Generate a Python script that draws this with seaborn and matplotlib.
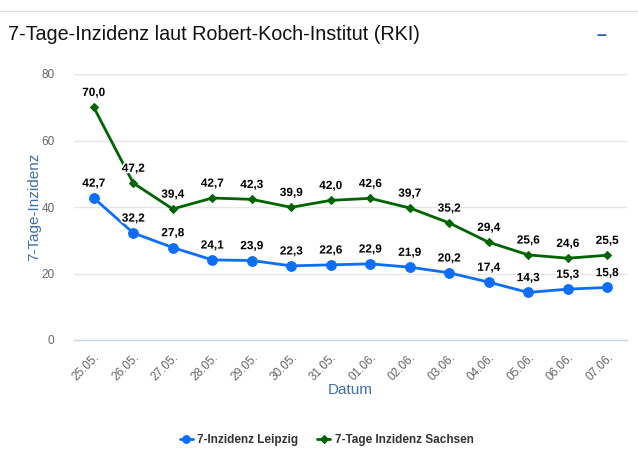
import matplotlib
matplotlib.use("Agg")
import matplotlib.pyplot as plt
import matplotlib.patheffects as pe
import seaborn as sns
import pandas as pd

# data
dates = ["25.05.", "26.05.", "27.05.", "28.05.", "29.05.", "30.05.", "31.05.",
         "01.06.", "02.06.", "03.06.", "04.06.", "05.06.", "06.06.", "07.06."]
leipzig = [42.7, 32.2, 27.8, 24.1, 23.9, 22.3, 22.6, 22.9, 21.9, 20.2, 17.4, 14.3, 15.3, 15.8]
sachsen = [70.0, 47.2, 39.4, 42.7, 42.3, 39.9, 42.0, 42.6, 39.7, 35.2, 29.4, 25.6, 24.6, 25.5]
y_ticks = [0, 20, 40, 60, 80]

df = pd.DataFrame({"pos": range(len(dates)), "datum": dates,
                   "leipzig": leipzig, "sachsen": sachsen})

sns.set_style("white")
plt.rcParams["font.family"] = ["Liberation Sans", "DejaVu Sans"]

fig = plt.figure(figsize=(6.38, 4.55), dpi=100)
ax = fig.add_axes([74 / 638, 1 - 340 / 455, 553 / 638, 266 / 455])

blue = "#0d6efd"
green = "#006400"

sns.lineplot(data=df, x="pos", y="leipzig", ax=ax, color=blue, lw=2,
             marker="o", markersize=7, markeredgecolor=blue, label="7-Inzidenz Leipzig")
sns.lineplot(data=df, x="pos", y="sachsen", ax=ax, color=green, lw=2,
             marker="D", markersize=4.5, markeredgecolor=green, label="7-Tage Inzidenz Sachsen")

outline = [pe.withStroke(linewidth=2.5, foreground="white")]
for col in ["leipzig", "sachsen"]:
    for x, v in zip(df["pos"], df[col]):
        ax.annotate(f"{v:.1f}".replace(".", ","), (x, v), xytext=(0, 6),
                    textcoords="offset points", ha="center", va="bottom",
                    fontsize=8.5, fontweight="bold", color="black", path_effects=outline)

ax.set_xlim(-0.5, len(dates) - 0.5)
ax.set_ylim(0, 80)
ax.set_yticks(y_ticks)
ax.set_yticklabels([str(t) for t in y_ticks], color="#666666", fontsize=8.5)
ax.set_xticks(range(len(dates)))
ax.set_xticklabels(dates, rotation=45, ha="right", rotation_mode="anchor",
                   color="#666666", fontsize=8.5)
ax.set_xticks([i - 0.5 for i in range(len(dates) + 1)], minor=True)
ax.tick_params(axis="x", which="major", length=0, pad=8)
ax.tick_params(axis="x", which="minor", length=8, color="#ccd6eb", width=1)
ax.tick_params(axis="y", length=0, pad=14)
ax.grid(axis="y", color="#e6e6e6", lw=1)
ax.set_axisbelow(True)
for s in ["top", "right", "left"]:
    ax.spines[s].set_visible(False)
ax.spines["bottom"].set_color("#ccd6eb")
ax.spines["bottom"].set_linewidth(1)

ax.set_xlabel("Datum", color="#3d6fb0", fontsize=11, labelpad=0)
ax.set_ylabel("7-Tage-Inzidenz", color="#3d6fb0", fontsize=11, labelpad=0)

leg = ax.legend(loc="upper center", bbox_to_anchor=(0.5 - 0.043, -0.315), ncol=2,
                frameon=False, fontsize=8.5, handlelength=1.1, handletextpad=0.4,
                columnspacing=1.6, markerscale=0.8)
for t in leg.get_texts():
    t.set_fontweight("bold")
    t.set_color("#333333")

fig.text(8 / 638, 1 - 35 / 455, "7-Tage-Inzidenz laut Robert-Koch-Institut (RKI)",
         fontsize=14.2, va="center", ha="left", color="#111111")
fig.text(601 / 638, 1 - 35 / 455, "–", fontsize=13, color="#1f5fb0",
         va="center", ha="center", fontweight="bold")
fig.add_artist(plt.Line2D([0, 1], [1 - 11 / 455, 1 - 11 / 455], color="#dddddd", lw=1))

fig.savefig("out.png", dpi=100)
